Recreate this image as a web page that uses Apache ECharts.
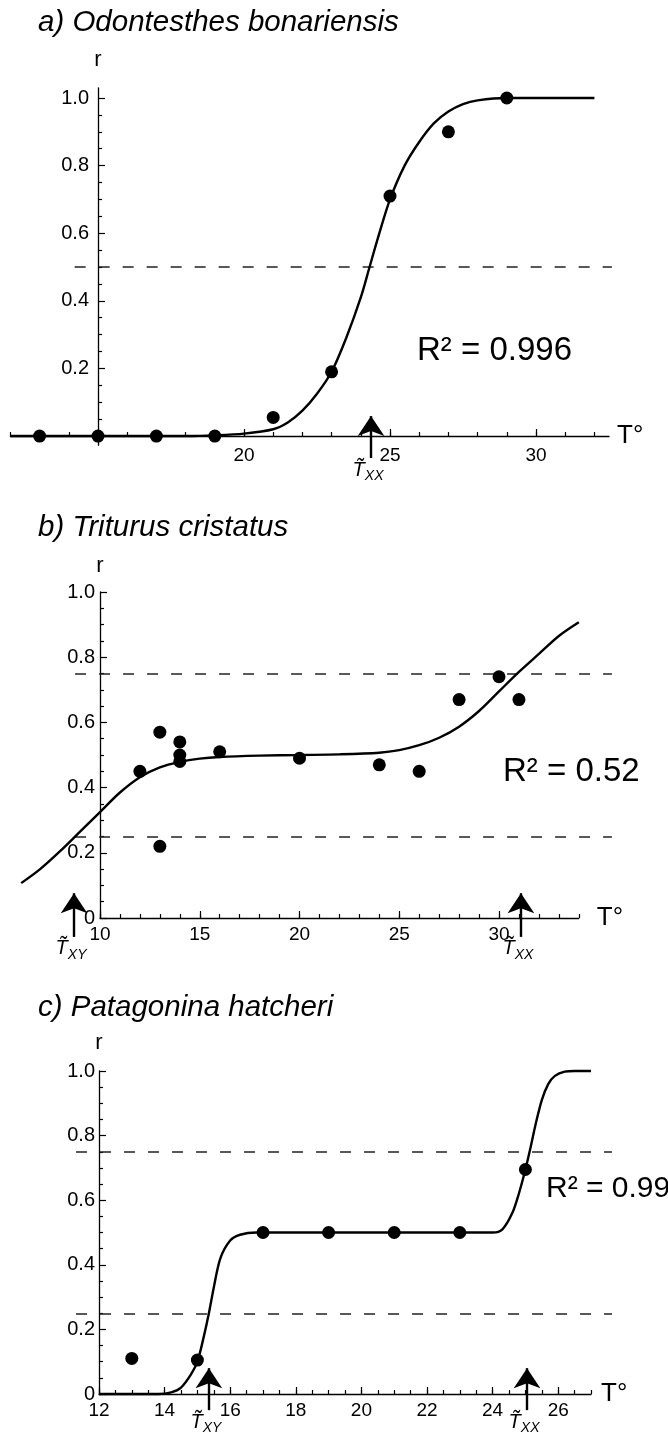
<!DOCTYPE html>
<html><head><meta charset="utf-8">
<script src="https://cdn.jsdelivr.net/npm/echarts@6/dist/echarts.min.js"></script>
<style>html,body{margin:0;padding:0;background:#fff}#c{width:668px;height:1446px}</style>
</head><body><div id="c"></div>
<script>
// ---------------- data ----------------
const titles = ['a) Odontesthes bonariensis', 'b) Triturus cristatus', 'c) Patagonina hatcheri'];
const r2Labels = ['R\u00B2 = 0.996', 'R\u00B2 = 0.52', 'R\u00B2 = 0.99'];

// panel a
const aPointT = [13, 15, 17, 19, 21, 23, 25, 27, 29];
const aPointR = [0, 0, 0, 0, 0.055, 0.19, 0.71, 0.9, 1.0];
const aCurveT = [12, 18, 19, 20, 21, 21.5, 22, 22.5, 23, 23.5, 24, 24.3, 24.6, 25, 25.5, 26, 26.5, 27, 27.5, 28, 29, 32];
const aCurveR = [0, 0, 0.002, 0.007, 0.02, 0.04, 0.075, 0.125, 0.19, 0.29, 0.41, 0.5, 0.59, 0.7, 0.8, 0.87, 0.925, 0.96, 0.982, 0.993, 1.0, 1.0];
const aLevels = [0.5];
const aArrowT = [24.35];
const aArrowSub = ['XX'];
const aXMajor = [15, 20, 25, 30];
const aXLabels = [20, 25, 30];
const aYMajor = [0.2, 0.4, 0.6, 0.8, 1.0];
const aYLabels = [0.2, 0.4, 0.6, 0.8, 1.0];

// panel b
const bPointT = [12, 13, 13, 14, 14, 14, 16, 20, 24, 26, 28, 30, 31];
const bPointR = [0.45, 0.57, 0.22, 0.54, 0.50, 0.48, 0.51, 0.49, 0.47, 0.45, 0.67, 0.74, 0.67];
const bCurveT = [6.05, 7, 8, 9, 10, 11, 12, 13, 14, 15, 16, 18, 20, 22, 24, 25, 26, 27, 28, 29, 30, 31, 32, 33, 34];
const bCurveR = [0.107, 0.15, 0.205, 0.265, 0.325, 0.385, 0.432, 0.462, 0.479, 0.489, 0.494, 0.498, 0.5, 0.502, 0.507, 0.515, 0.53, 0.553, 0.587, 0.635, 0.695, 0.755, 0.81, 0.865, 0.907];
const bLevels = [0.25, 0.75];
const bArrowT = [8.7, 31.1];
const bArrowSub = ['XY', 'XX'];
const bXMajor = [10, 15, 20, 25, 30];
const bXLabels = [10, 15, 20, 25, 30];
const bYMajor = [0, 0.2, 0.4, 0.6, 0.8, 1.0];
const bYLabels = [0, 0.2, 0.4, 0.6, 0.8, 1.0];

// panel c
const cPointT = [13, 15, 17, 19, 21, 23, 25];
const cPointR = [0.11, 0.105, 0.5, 0.5, 0.5, 0.5, 0.695];
const cCurveT = [12, 13.8, 14.2, 14.5, 14.8, 15, 15.2, 15.35, 15.5, 15.7, 16, 16.3, 16.8, 24, 24.3, 24.6, 24.8, 25, 25.15, 25.3, 25.5, 25.7, 25.9, 26.2, 26.5, 27];
const cCurveR = [0, 0, 0.005, 0.02, 0.06, 0.1, 0.18, 0.25, 0.33, 0.42, 0.475, 0.493, 0.5, 0.5, 0.51, 0.56, 0.62, 0.695, 0.76, 0.83, 0.91, 0.96, 0.985, 0.998, 1.0, 1.0];
const cLevels = [0.25, 0.75];
const cArrowT = [15.35, 25.05];
const cArrowSub = ['XY', 'XX'];
const cXMajor = [12, 14, 16, 18, 20, 22, 24, 26];
const cXLabels = [12, 14, 16, 18, 20, 22, 24, 26];
const cYMajor = [0, 0.2, 0.4, 0.6, 0.8, 1.0];
const cYLabels = [0, 0.2, 0.4, 0.6, 0.8, 1.0];

// ---------------- helpers ----------------
const FONT = '"Liberation Sans", Arial, Helvetica, sans-serif';
const INK = '#000';
function xy(ts, rs) { return ts.map((t, i) => [t, rs[i]]); }
function steps(a, b, s) { const out = []; for (let v = a; v <= b + 1e-9; v += s) out.push(Math.round(v * 1000) / 1000); return out; }
function minorY() { const out = []; for (let k = 1; k < 20; k++) if (k % 4) out.push(Math.round(k * 5) / 100); return out; }

// layout: px per T-unit and grid geometry
const panels = [
  { left: 10.4, top: 87.86, pxT: 29.2, height: 357.3,
    xMin: 12, xMax: 32.5, yMin: -0.027, yMax: 1.03, yOffset: -87.6, curveXMin: 12,
    xMinor: steps(12, 32, 1), xMajor: aXMajor, xLabels: aXLabels, xLabelMargin: 1,
    yMinor: minorY(), yMajor: aYMajor, yLabels: aYLabels, yLabelMargin: 9,
    nameGapX: 8, nameGapY: 17,
    curve: xy(aCurveT, aCurveR), points: xy(aPointT, aPointR),
    levels: aLevels, dashFrom: 14.2, dashTo: 32.6,
    arrows: aArrowT, arrowSub: aArrowSub, arrowFrom: -0.065, arrowTo: 0.059 },
  { left: 100, top: 592, pxT: 19.95, height: 326,
    xMin: 10, xMax: 34, yMin: 0, yMax: 1, yOffset: 0, curveXMin: 6,
    xMinor: steps(10, 34, 1), xMajor: bXMajor, xLabels: bXLabels, xLabelMargin: 7,
    yMinor: minorY(), yMajor: bYMajor, yLabels: bYLabels, yLabelMargin: 5,
    nameGapX: 18, nameGapY: 15,
    curve: xy(bCurveT, bCurveR), points: xy(bPointT, bPointR),
    levels: bLevels, dashFrom: 8.75, dashTo: 35.66,
    arrows: bArrowT, arrowSub: bArrowSub, arrowFrom: -0.058, arrowTo: 0.076 },
  { left: 99, top: 1071, pxT: 32.8, height: 323,
    xMin: 12, xMax: 27, yMin: 0, yMax: 1, yOffset: 0, curveXMin: 12,
    xMinor: steps(12, 27, 0.5), xMajor: cXMajor, xLabels: cXLabels, xLabelMargin: 7,
    yMinor: minorY(), yMajor: cYMajor, yLabels: cYLabels, yLabelMargin: 4,
    nameGapX: 10, nameGapY: 17,
    curve: xy(cCurveT, cCurveR), points: xy(cPointT, cPointR),
    levels: cLevels, dashFrom: 11.3, dashTo: 27.64,
    arrows: cArrowT, arrowSub: cArrowSub, arrowFrom: -0.05, arrowTo: 0.08 }
];

const tickLine = {color: INK, width: 1.2};
const grids = [], xAxes = [], yAxes = [], series = [];
const hidden = {show: false};

panels.forEach((p, i) => {
  // visible grid (axes, points, guides)
  grids.push({left: p.left, top: p.top, width: (p.xMax - p.xMin) * p.pxT, height: p.height});
  // companion grid with the same scale, widened to the left so the fitted curve is not cut
  grids.push({left: p.left - (p.xMin - p.curveXMin) * p.pxT, top: p.top,
              width: (p.xMax - p.curveXMin) * p.pxT, height: p.height});
  const g = 2 * i, gc = 2 * i + 1;
  xAxes.push({
    type: 'value', gridIndex: g, min: p.xMin, max: p.xMax, position: 'bottom',
    axisLine: {show: true, onZero: true, lineStyle: {color: INK, width: 1.3}},
    axisTick: {show: true, inside: true, length: 4, customValues: p.xMinor, lineStyle: tickLine},
    axisLabel: {show: false}, splitLine: hidden, minorTick: hidden,
    name: 'T\u00B0', nameLocation: 'end', nameGap: p.nameGapX, nameMoveOverlap: false,
    nameTextStyle: {fontFamily: FONT, fontSize: 26, color: INK, align: 'left', verticalAlign: 'middle'},
    axisPointer: hidden
  });
  xAxes.push({
    type: 'value', gridIndex: g, min: p.xMin, max: p.xMax, position: 'bottom',
    axisLine: {show: false, onZero: true},
    axisTick: {show: true, inside: true, length: 7, customValues: p.xMajor, lineStyle: tickLine},
    axisLabel: {show: true, customValues: p.xLabels, margin: p.xLabelMargin, fontFamily: FONT, fontSize: 19, color: INK,
      formatter: v => String(v)},
    splitLine: hidden, axisPointer: hidden
  });
  xAxes.push({
    type: 'value', gridIndex: gc, min: p.curveXMin, max: p.xMax, show: false,
    splitLine: hidden, axisPointer: hidden
  });
  yAxes.push({
    type: 'value', gridIndex: g, min: p.yMin, max: p.yMax, position: 'left', offset: p.yOffset,
    axisLine: {show: true, onZero: false, lineStyle: {color: INK, width: 1.3}},
    axisTick: {show: true, inside: true, length: 7, customValues: p.yMajor, lineStyle: tickLine},
    axisLabel: {show: true, customValues: p.yLabels, margin: p.yLabelMargin, fontFamily: FONT, fontSize: 20, color: INK,
      formatter: v => (Math.abs(v) < 1e-9 ? '0' : v.toFixed(1))},
    splitLine: hidden,
    name: 'r', nameLocation: 'end', nameGap: p.nameGapY, nameMoveOverlap: false,
    nameTextStyle: {fontFamily: FONT, fontSize: 22, color: INK},
    axisPointer: hidden
  });
  yAxes.push({
    type: 'value', gridIndex: g, min: p.yMin, max: p.yMax, position: 'left', offset: p.yOffset,
    axisLine: {show: false, onZero: false},
    axisTick: {show: true, inside: true, length: 4, customValues: p.yMinor, lineStyle: tickLine},
    axisLabel: {show: false}, splitLine: hidden, axisPointer: hidden
  });
  yAxes.push({
    type: 'value', gridIndex: gc, min: p.yMin, max: p.yMax, show: false,
    splitLine: hidden, axisPointer: hidden
  });
  const xi = 3 * i, yi = 3 * i, xc = 3 * i + 2, yc = 3 * i + 2;
  series.push({
    type: 'line', xAxisIndex: xc, yAxisIndex: yc, data: p.curve, smooth: 0.3,
    showSymbol: false, symbol: 'none', clip: false, silent: true, z: 3,
    lineStyle: {color: INK, width: 2.4}
  });
  series.push({
    type: 'scatter', xAxisIndex: xi, yAxisIndex: yi, data: p.points, symbol: 'circle', symbolSize: 13,
    clip: false, silent: true, z: 4, itemStyle: {color: INK, opacity: 1}
  });
  series.push({
    type: 'lines', coordinateSystem: 'cartesian2d', xAxisIndex: xi, yAxisIndex: yi, clip: false, silent: true, z: 2,
    symbol: 'none', lineStyle: {color: '#222', width: 1.5, type: [11, 13], opacity: 1, curveness: 0},
    data: p.levels.map(l => ({coords: [[p.dashFrom, l], [p.dashTo, l]]}))
  });
  series.push({
    type: 'lines', coordinateSystem: 'cartesian2d', xAxisIndex: xi, yAxisIndex: yi, clip: false, silent: true, z: 5,
    symbol: ['none', 'arrow'], symbolSize: [16, 20],
    itemStyle: {color: INK},
    lineStyle: {color: INK, width: 2.4, opacity: 1, curveness: 0},
    label: {
      show: true, position: 'start', distance: 2, offset: [-3, 0],
      formatter: prm => '{t|T\u0303}{s|' + prm.name + '}',
      rich: {
        t: {fontFamily: FONT, fontStyle: 'italic', fontSize: 20, color: INK, lineHeight: 20, verticalAlign: 'top'},
        s: {fontFamily: FONT, fontStyle: 'italic', fontSize: 14, color: INK, lineHeight: 14, padding: [12, 0, 0, 0]}
      }
    },
    data: p.arrows.map((t, k) => ({name: p.arrowSub[k], coords: [[t, p.arrowFrom], [t, p.arrowTo]]}))
  });
});

const titleTops = [8, 513, 993];
const r2Style = [
  {left: 417, top: 334, size: 33},
  {left: 503, top: 755, size: 33},
  {left: 546, top: 1174, size: 30}
];
const titleList = [];
titles.forEach((t, i) => titleList.push({
  text: t, left: 38, top: titleTops[i], padding: 0,
  textStyle: {fontFamily: FONT, fontStyle: 'italic', fontWeight: 'normal', fontSize: 29.5, lineHeight: 29.5, color: INK}
}));
r2Labels.forEach((t, i) => titleList.push({
  text: t, left: r2Style[i].left, top: r2Style[i].top, padding: 0,
  textStyle: {fontFamily: FONT, fontWeight: 'normal', fontSize: r2Style[i].size, lineHeight: r2Style[i].size, color: INK}
}));

const chart = echarts.init(document.getElementById('c'), null, {renderer: 'canvas', width: 668, height: 1446});
chart.setOption({
  animation: false,
  backgroundColor: '#fff',
  textStyle: {fontFamily: FONT},
  title: titleList,
  grid: grids,
  xAxis: xAxes,
  yAxis: yAxes,
  series: series
});
</script>
</body></html>
